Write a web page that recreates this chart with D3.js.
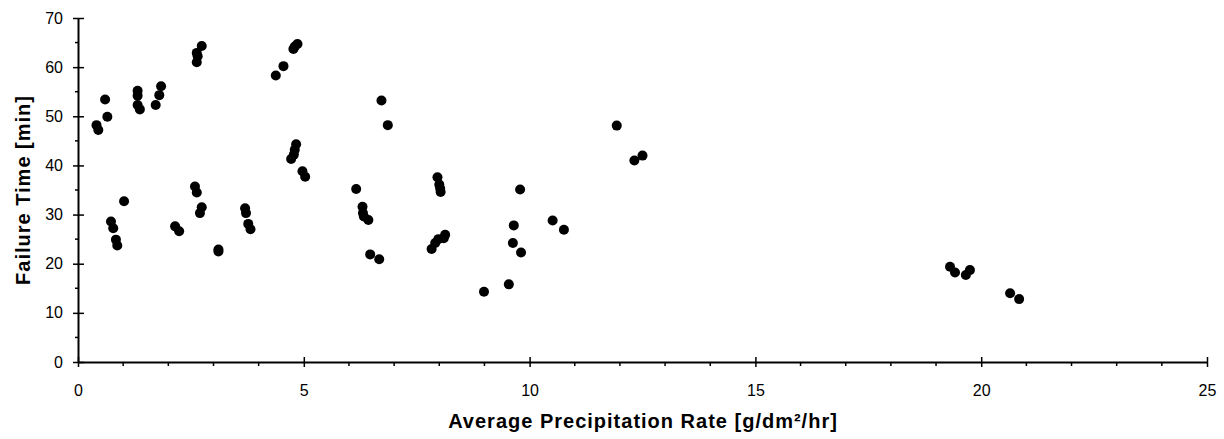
<!DOCTYPE html>
<html>
<head>
<meta charset="utf-8">
<script src="https://cdn.jsdelivr.net/npm/d3@7"></script>
<style>
  body { margin: 0; background: #fff; }
  text { font-family: "Liberation Sans", Arial, sans-serif; fill: #000; }
</style>
</head>
<body>
<div id="chart"></div>
<script>
// precipitation rate [g/dm2/hr]
const rate = [
  0.41, 0.45, 0.60, 0.65, 0.73, 0.78, 0.84, 0.87, 1.02,
  1.32, 1.32, 1.32, 1.37, 1.72, 1.80, 1.84,
  2.15, 2.24, 2.59, 2.63, 2.63, 2.63, 2.65, 2.74, 2.70, 2.74,
  3.11, 3.11, 3.70, 3.72, 3.77, 3.82,
  4.38, 4.55, 4.77, 4.80, 4.86, 4.72, 4.78, 4.80, 4.83, 4.97, 5.03,
  6.16, 6.30, 6.31, 6.33, 6.43, 6.47, 6.67, 6.72, 6.86,
  7.96, 8.00, 8.02, 8.03, 7.83, 7.91, 7.98, 8.10, 8.13,
  8.99, 9.54, 9.63, 9.65, 9.81, 9.79, 10.51, 10.76,
  11.93, 12.32, 12.50,
  19.31, 19.42, 19.66, 19.75, 20.64, 20.84
];
// failure time [min]
const failTime = [
  48.2, 47.2, 53.4, 49.9, 28.6, 27.2, 24.9, 23.7, 32.7,
  55.2, 54.2, 52.3, 51.4, 52.3, 54.3, 56.1,
  27.6, 26.6, 35.7, 34.5, 62.9, 61.0, 62.2, 64.3, 30.3, 31.5,
  22.9, 22.5, 31.3, 30.3, 28.1, 27.0,
  58.3, 60.2, 63.7, 64.2, 64.7, 41.3, 42.2, 43.2, 44.3, 38.8, 37.7,
  35.2, 31.6, 30.3, 29.6, 28.9, 21.9, 20.9, 53.2, 48.2,
  37.6, 36.1, 35.3, 34.6, 23.0, 24.2, 25.0, 25.2, 25.9,
  14.3, 15.8, 24.2, 27.8, 22.3, 35.1, 28.8, 26.9,
  48.1, 41.0, 42.0,
  19.4, 18.2, 17.7, 18.7, 14.0, 12.8
];
const xTicks = [0, 5, 10, 15, 20, 25];
const yTicks = [0, 10, 20, 30, 40, 50, 60, 70];

const width = 1224, height = 439;
const margin = {top: 18, right: 17, bottom: 77, left: 78};

const svg = d3.select("#chart")
  .append("svg")
  .attr("width", width)
  .attr("height", height);

const x = d3.scaleLinear().domain([0, 25]).range([margin.left, width - margin.right]);
const y = d3.scaleLinear().domain([0, 70]).range([height - margin.bottom, margin.top]);

const x0 = x(0), y0 = y(0);

// minor ticks
svg.append("g")
  .selectAll("line")
  .data(d3.range(0, 26, 1).filter(d => d % 5 !== 0))
  .join("line")
  .attr("x1", d => x(d)).attr("x2", d => x(d))
  .attr("y1", y0).attr("y2", y0 + 4)
  .attr("stroke", "#000").attr("stroke-width", 1.5);

svg.append("g")
  .selectAll("line")
  .data(d3.range(5, 70, 10))
  .join("line")
  .attr("x1", x0 - 3).attr("x2", x0)
  .attr("y1", d => y(d)).attr("y2", d => y(d))
  .attr("stroke", "#000").attr("stroke-width", 1.5);

// x axis
const xAxis = svg.append("g")
  .attr("transform", `translate(0,${y0})`)
  .call(d3.axisBottom(x).tickValues(xTicks).tickSizeInner(5).tickSizeOuter(0).tickPadding(18));
xAxis.select(".domain").attr("stroke-width", 2);
xAxis.selectAll(".tick line").attr("y1", -5).attr("stroke-width", 1.5);
xAxis.selectAll(".tick text").style("font-size", "16px");

// y axis
const yAxis = svg.append("g")
  .attr("transform", `translate(${x0},0)`)
  .call(d3.axisLeft(y).tickValues(yTicks).tickSizeInner(5).tickSizeOuter(0).tickPadding(10));
yAxis.select(".domain").attr("stroke-width", 2);
yAxis.selectAll(".tick line").attr("x1", 6).attr("x2", -5).attr("stroke-width", 1.5);
yAxis.selectAll(".tick text").style("font-size", "16px");

// points
svg.append("g")
  .selectAll("circle")
  .data(rate.map((r, i) => ({r, t: failTime[i]})))
  .join("circle")
  .attr("cx", d => x(d.r))
  .attr("cy", d => y(d.t))
  .attr("r", 5)
  .attr("fill", "#000");

// axis titles
svg.append("text")
  .attr("x", 643)
  .attr("y", 428)
  .attr("text-anchor", "middle")
  .style("font-size", "20px")
  .style("font-weight", "bold")
  .style("letter-spacing", "1px")
  .text("Average Precipitation Rate [g/dm²/hr]");

svg.append("text")
  .attr("transform", `translate(30,${(y(0) + y(70)) / 2}) rotate(-90)`)
  .attr("text-anchor", "middle")
  .style("font-size", "20px")
  .style("font-weight", "bold")
  .style("letter-spacing", "1px")
  .text("Failure Time [min]");
</script>
</body>
</html>
